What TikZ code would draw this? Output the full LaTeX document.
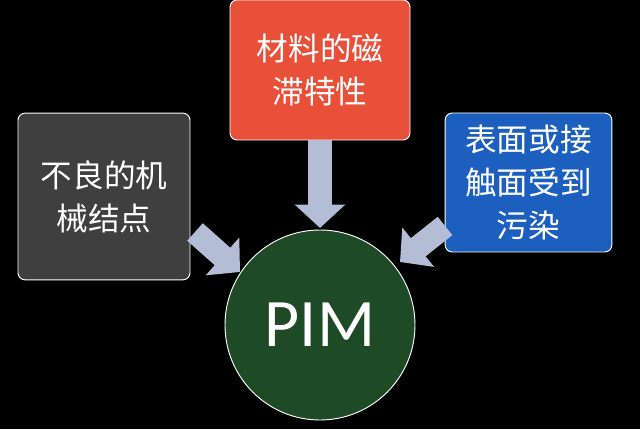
\documentclass[tikz,border=0pt]{standalone}
\usepackage{fontspec}
\newfontfamily\cjk{Noto Sans CJK SC}
\setsansfont{Carlito}
\usetikzlibrary{arrows.meta,positioning}
\definecolor{boxgray}{HTML}{3F3F3F}
\definecolor{boxred}{HTML}{E8503A}
\definecolor{boxblue}{HTML}{1C5FBF}
\definecolor{pimgreen}{HTML}{1E4A26}
\definecolor{arrowblue}{HTML}{B3BDD6}
\tikzset{
  causebox/.style={
    rectangle,
    rounded corners=6pt,
    draw=white, thick,
    text=white,
    align=center,
    font=\cjk\fontsize{27}{37}\selectfont},
  fatarrow/.style={draw=arrowblue, line width=20pt,
    -{Triangle[width=42pt,length=20pt]}, arrowblue}
}
\begin{document}
\begin{tikzpicture}
    \fill[black] (0,0) rectangle (19.2,12.87);
    \useasboundingbox (0,0) rectangle (19.2,12.87);

    \node[causebox, fill=boxgray, minimum width=5.16cm, minimum height=5cm]
        (joint) at (3.12,6.975) {不良的机\\械结点};
    \node[causebox, fill=boxred, minimum width=5.4cm, minimum height=4.2cm]
        (hyst) at (9.6,10.77) {材料的磁\\滞特性};
    \node[causebox, fill=boxblue, minimum width=5cm, minimum height=4.17cm]
        (dirt) at (15.855,7.395) {表面或接\\触面受到\\污染};
    \node[circle, draw=white, thick, fill=pimgreen, minimum size=5.7cm,
        text=white, font=\sffamily\fontsize{58}{66}\selectfont]
        (pim) at (9.6,3.12) {PIM};

    \coordinate (a1) at (5.85,5.91);
    \coordinate (a2) at (7.2,4.71);
    \coordinate (b1) at (9.6,8.67);
    \coordinate (b2) at (9.6,6.03);
    \coordinate (c1) at (13.35,6.09);
    \coordinate (c2) at (12,5.01);
    \draw[fatarrow] (a1) -- (a2);
    \draw[fatarrow] (b1) -- (b2);
    \draw[fatarrow] (c1) -- (c2);
\end{tikzpicture}
\end{document}
